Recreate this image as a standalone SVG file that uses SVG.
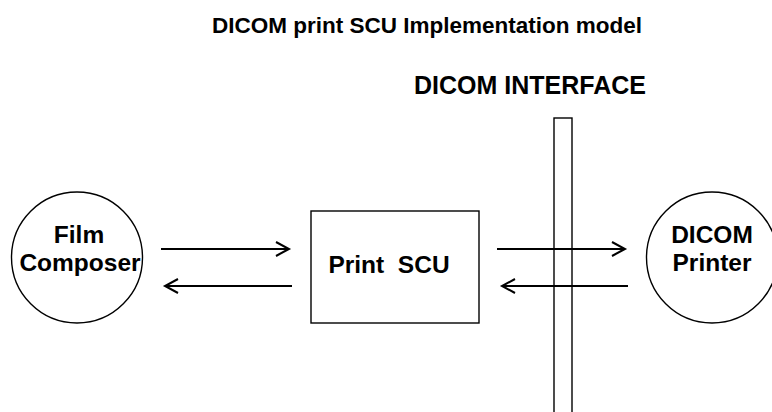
<svg xmlns="http://www.w3.org/2000/svg" width="772" height="412" viewBox="0 0 772 412">
  <style>
    .lbl { font-family: "Liberation Sans", Arial, sans-serif; font-weight: bold; fill: #000; }
    .node { font-size: 24.5px; text-anchor: middle; }
    .shape { fill: none; stroke: #000; stroke-width: 1.4; }
    .conn { fill: none; stroke: #000; stroke-width: 2; }
  </style>
  <defs>
    <marker id="arrow" markerUnits="userSpaceOnUse" markerWidth="20" markerHeight="20" refX="14" refY="8" orient="auto" viewBox="0 0 20 20">
      <path d="M1,1 L14,8 L1,15" fill="none" stroke="#000" stroke-width="2"/>
    </marker>
  </defs>
  <rect width="772" height="412" fill="#fff"/>
  <text class="lbl" x="212" y="33" font-size="22.5">DICOM print SCU Implementation model</text>
  <text class="lbl" x="414" y="94" font-size="25">DICOM INTERFACE</text>

  <g id="film-composer">
    <circle class="shape" cx="77" cy="257.5" r="65.5"/>
    <text class="lbl node" x="79" y="243">Film</text>
    <text class="lbl node" x="80" y="271">Composer</text>
  </g>
  <g id="print-scu">
    <rect class="shape" x="311" y="211" width="168" height="112"/>
    <text class="lbl node" x="389" y="273" font-size="25" xml:space="preserve">Print  SCU</text>
  </g>
  <g id="dicom-printer">
    <circle class="shape" cx="712" cy="257.5" r="65.5"/>
    <text class="lbl node" x="712" y="243">DICOM</text>
    <text class="lbl node" x="712" y="270.5">Printer</text>
  </g>
  <g id="dicom-interface">
    <rect class="shape" x="554" y="118" width="18" height="310"/>
  </g>
  <g id="connectors">
    <line class="conn" x1="161" y1="249" x2="289" y2="249" marker-end="url(#arrow)"/>
    <line class="conn" x1="292" y1="286" x2="165" y2="286" marker-end="url(#arrow)"/>
    <line class="conn" x1="497" y1="249" x2="625" y2="249" marker-end="url(#arrow)"/>
    <line class="conn" x1="628" y1="286" x2="502" y2="286" marker-end="url(#arrow)"/>
  </g>
</svg>
